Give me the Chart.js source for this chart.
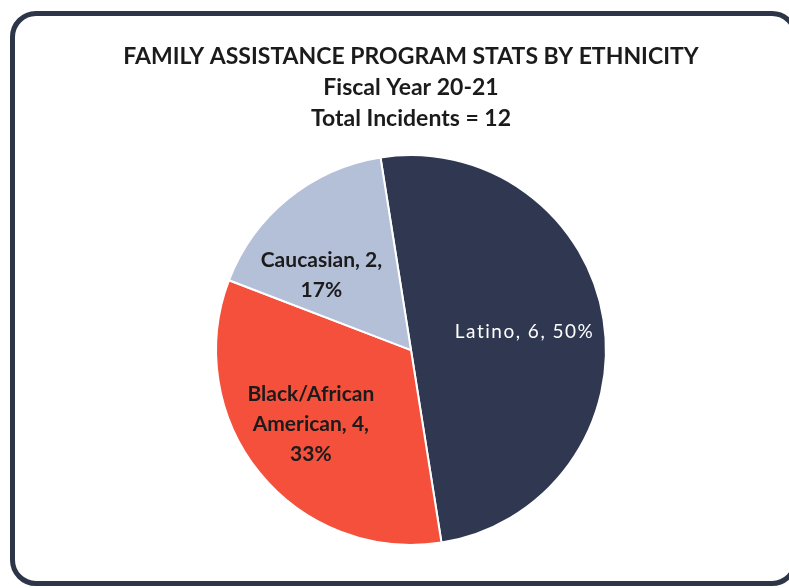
<!DOCTYPE html>
<html>
<head>
<meta charset="utf-8">
<script src="https://cdn.jsdelivr.net/npm/chart.js@4.4.1/dist/chart.umd.min.js"></script>
<style>
  html, body { margin: 0; padding: 0; background: #ffffff; overflow: hidden; }
  #wrap { position: relative; width: 789px; height: 588px; overflow: hidden; background: #fff; }
  #frame { position: absolute; left: 10px; top: 11px; width: 788px; height: 575px;
           border: 5px solid #2d3548; border-radius: 26px; box-sizing: border-box; }
  #c { position: absolute; left: 0; top: 0; }
</style>
</head>
<body>
<div id="wrap">
  <div id="frame"></div>
  <canvas id="c" width="789" height="588"></canvas>
</div>
<script>
// ---- data ----
const categories = ["Latino", "Black/African American", "Caucasian"];
const counts = [6, 4, 2];
const percents = ["50%", "33%", "17%"];
const titleLines = ["FAMILY ASSISTANCE PROGRAM STATS BY ETHNICITY", "Fiscal Year 20-21", "Total Incidents = 12"];

// ---- styles ----
const sliceColors = ["#2f3850", "#f4503c", "#b4bfd8"];
const labelLines = [
  [categories[0] + ", " + counts[0] + ", " + percents[0]],
  ["Black/African", "American, " + counts[1] + ",", percents[1]],
  [categories[2] + ", " + counts[2] + ",", percents[2]]
];
const labelStyle = [
  { color: "#ffffff", weight: "normal", size: 19, spacing: "1.5px", angleOff: 0, rFrac: 0.59 },
  { color: "#1b1b1b", weight: "bold", size: 21, spacing: "0px", angleOff: 2.4, rFrac: 0.64 },
  { color: "#1b1b1b", weight: "bold", size: 21, spacing: "0px", angleOff: -11, rFrac: 0.60 }
];

const labelPlugin = {
  id: "sliceLabels",
  afterDatasetsDraw(chart) {
    const ctx = chart.ctx;
    const meta = chart.getDatasetMeta(0);
    meta.data.forEach((arc, i) => {
      const p = arc.getProps(["x", "y", "startAngle", "endAngle", "outerRadius"], true);
      const st = labelStyle[i];
      const mid = (p.startAngle + p.endAngle) / 2 + st.angleOff * Math.PI / 180;
      const r = p.outerRadius * st.rFrac;
      const cx = p.x + Math.cos(mid) * r;
      const cy = p.y + Math.sin(mid) * r;
      const lines = labelLines[i];
      const lh = 30;
      ctx.save();
      ctx.fillStyle = st.color;
      ctx.font = st.weight + " " + st.size + "px Lato, 'Open Sans', sans-serif";
      if ("letterSpacing" in ctx) ctx.letterSpacing = st.spacing;
      ctx.textAlign = "center";
      ctx.textBaseline = "middle";
      lines.forEach((t, k) => {
        ctx.fillText(t, cx, cy + (k - (lines.length - 1) / 2) * lh);
      });
      ctx.restore();
    });
  }
};

new Chart(document.getElementById("c"), {
  type: "pie",
  data: {
    labels: categories,
    datasets: [{
      data: counts,
      backgroundColor: sliceColors,
      borderColor: "#ffffff",
      borderWidth: 2
    }]
  },
  options: {
    responsive: false,
    animation: false,
    rotation: -9,
    layout: { padding: { left: 33, right: 0, top: 0, bottom: 42 } },
    plugins: {
      legend: { display: false },
      tooltip: { enabled: false },
      title: {
        display: true,
        text: titleLines,
        color: "#1b1b1b",
        font: { family: "Lato, 'Open Sans', sans-serif", size: 23, weight: "bold", lineHeight: 1.35 },
        padding: { top: 41, bottom: 20 }
      }
    }
  },
  plugins: [labelPlugin]
});
</script>
</body>
</html>
